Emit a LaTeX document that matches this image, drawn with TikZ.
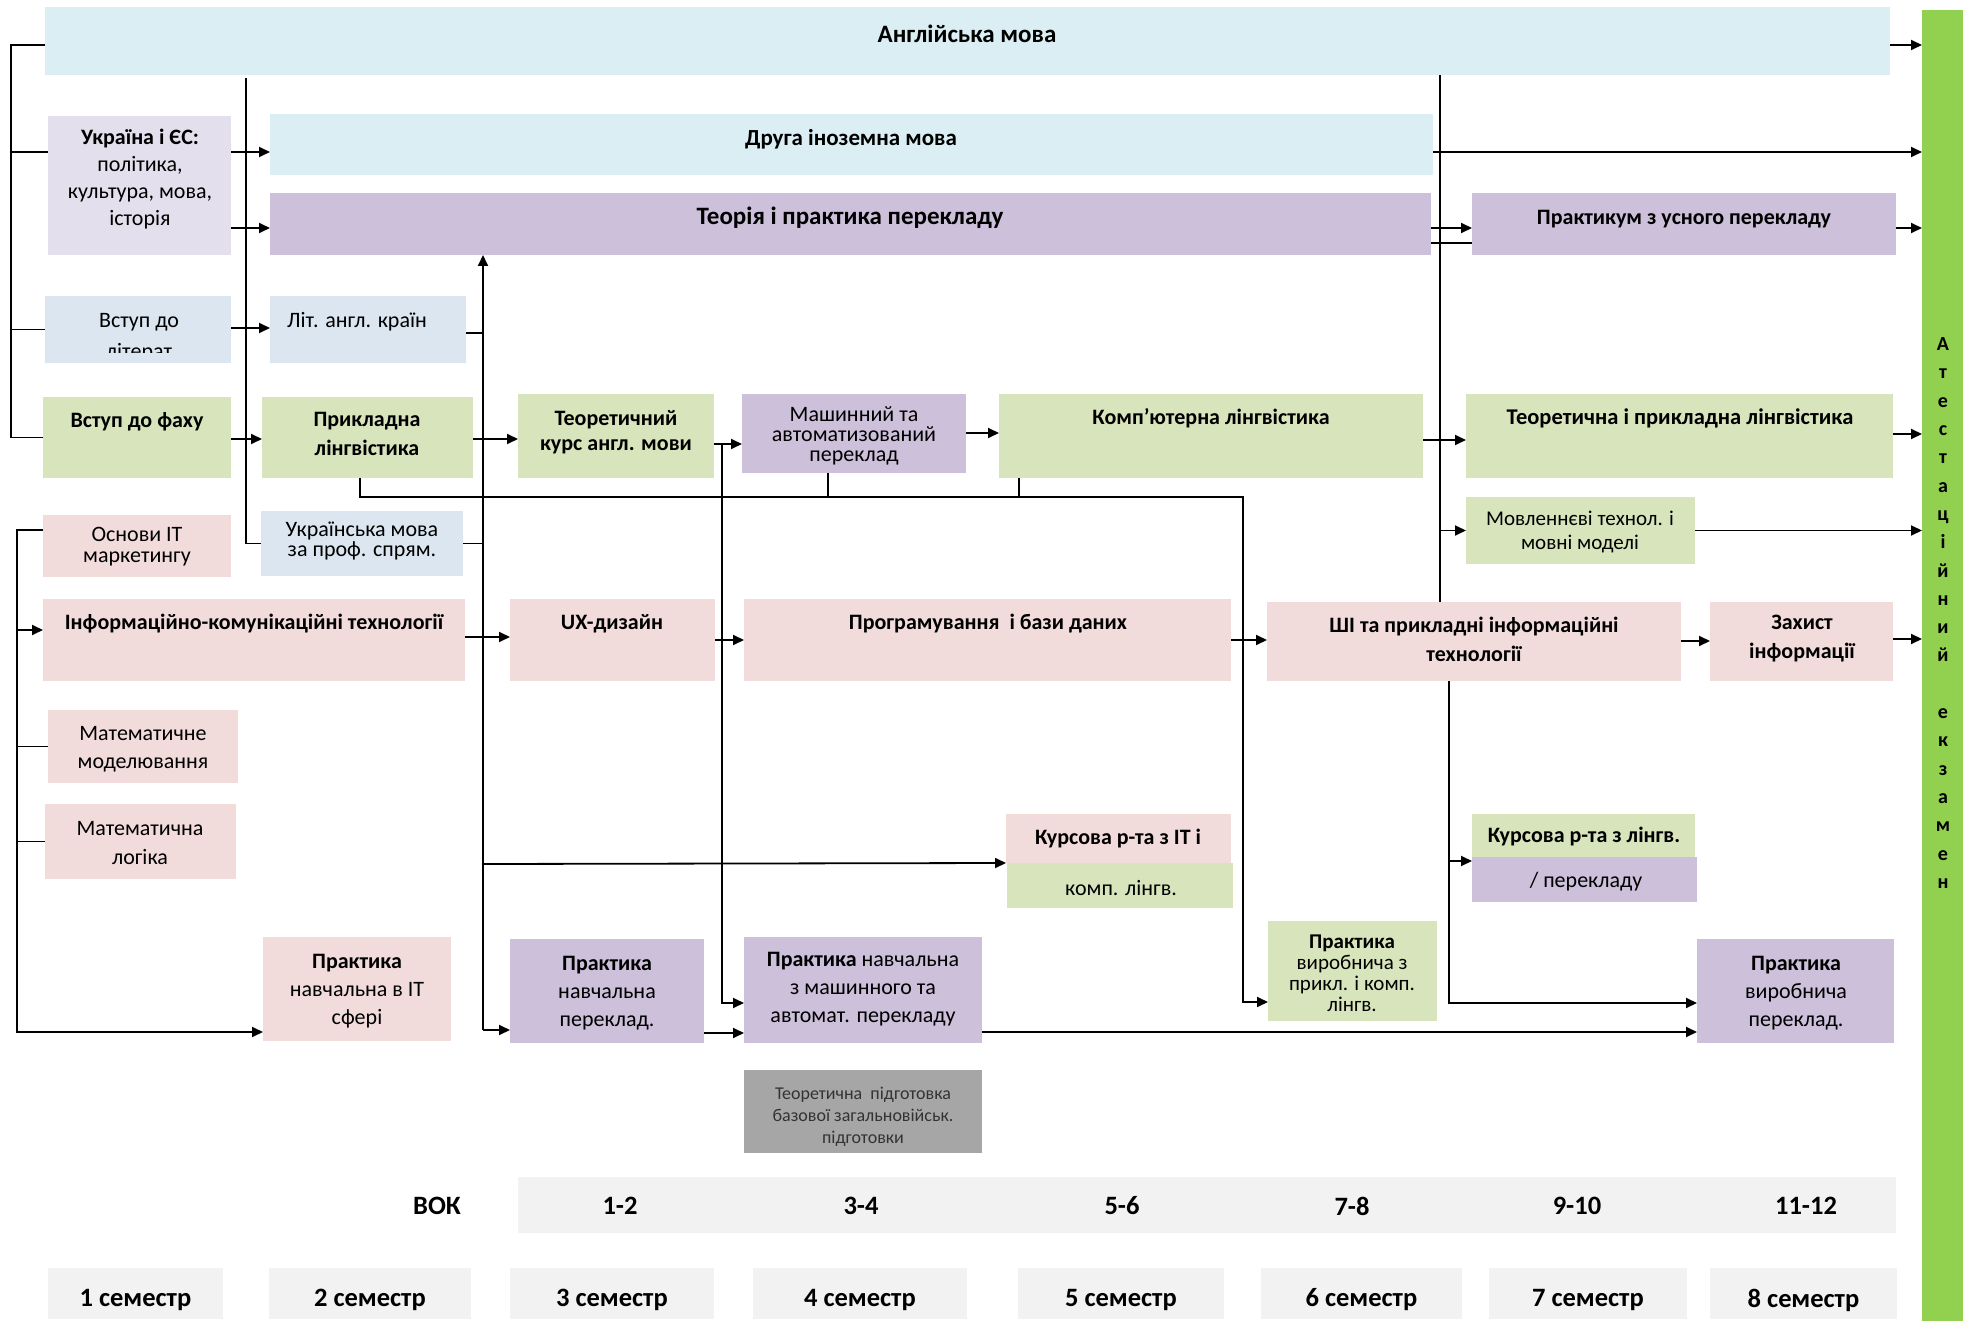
\documentclass[tikz,border=0pt]{standalone}
\usepackage{fontspec}
\setmainfont{Carlito}
\usetikzlibrary{arrows.meta}
\definecolor{cBlue}{HTML}{DAEEF3}
\definecolor{cLav}{HTML}{E4DFEC}
\definecolor{cPurp}{HTML}{CCC0DA}
\definecolor{cBG}{HTML}{DCE6F1}
\definecolor{cGreen}{HTML}{D8E4BC}
\definecolor{cPink}{HTML}{F2DCDB}
\definecolor{cGray}{HTML}{A6A6A6}
\definecolor{cLG}{HTML}{F2F2F2}
\definecolor{cAtt}{HTML}{92D050}
\definecolor{cDark}{HTML}{333333}
\tikzset{
  boxbase/.style={rectangle,inner sep=0pt,outer sep=0pt,draw=none},
  tx/.style={font=\fontsize{22}{28}\selectfont,align=center,inner sep=0pt},
  tb/.style={font=\fontsize{22}{28}\selectfont\bfseries,align=center,inner sep=0pt},
  tbig/.style={font=\fontsize{25}{30}\selectfont\bfseries,align=center,inner sep=0pt},
  tbot/.style={font=\fontsize{26.5}{30}\selectfont\bfseries,align=center,inner sep=0pt},
  ln/.style={line width=1.8pt},
  arr/.style={line width=1.8pt,-{Triangle[length=11pt,width=10pt]}},
}
\newcommand\bx[6]{\node[boxbase,fill=#6,minimum width={(#4-#2)*1pt},minimum height={(#5-#3)*1pt}] (#1) at ({(#2+#4)/2},{(#3+#5)/2}) {};}
\begin{document}
\begin{tikzpicture}[x=1pt,y=-1pt]
\useasboundingbox (0,0) rectangle (1966,1321);
% ---------- boxes ----------
\bx{eng}{45}{7}{1890}{75}{cBlue}
\bx{ukr}{48}{116}{231}{255}{cLav}
\bx{druha}{270}{114}{1433}{175}{cBlue}
\bx{teoria}{270}{193}{1431}{255}{cPurp}
\bx{prakt}{1472}{193}{1896}{255}{cPurp}
\bx{vstlit}{45}{296}{231}{363}{cBG}
\bx{lit}{270}{296}{466}{363}{cBG}
\bx{vstfah}{43}{397}{231}{478}{cGreen}
\bx{prykl}{262}{397}{473}{478}{cGreen}
\bx{teorkurs}{518}{394}{714}{478}{cGreen}
\bx{mash}{742}{394}{966}{473}{cPurp}
\bx{komp}{999}{394}{1423}{478}{cGreen}
\bx{tpl}{1466}{394}{1893}{478}{cGreen}
\bx{osn}{43}{515}{231}{577}{cPink}
\bx{ukrmova}{261}{511}{463}{576}{cBG}
\bx{movl}{1466}{497}{1695}{564}{cGreen}
\bx{inf}{43}{599}{465}{681}{cPink}
\bx{ux}{510}{599}{715}{681}{cPink}
\bx{prog}{744}{599}{1231}{681}{cPink}
\bx{shi}{1267}{602}{1681}{681}{cPink}
\bx{zah}{1710}{602}{1893}{681}{cPink}
\bx{matmod}{48}{710}{238}{783}{cPink}
\bx{matlog}{45}{804}{236}{879}{cPink}
\bx{kursITa}{1006}{814}{1231}{863}{cPink}
\bx{kursITb}{1007}{863}{1233}{908}{cGreen}
\bx{kursLa}{1472}{814}{1695}{857}{cGreen}
\bx{kursLb}{1472}{857}{1697}{902}{cPurp}
\bx{pnIT}{263}{937}{451}{1041}{cPink}
\bx{pnp}{510}{939}{704}{1043}{cPurp}
\bx{pnm}{744}{937}{982}{1043}{cPurp}
\bx{pvk}{1268}{921}{1437}{1021}{cGreen}
\bx{pvp}{1697}{939}{1894}{1043}{cPurp}
\bx{grayb}{744}{1070}{982}{1153}{cGray}
\bx{vok}{518}{1177}{1896}{1233}{cLG}
\bx{semA}{48}{1268}{223}{1319}{cLG}
\bx{semB}{269}{1268}{471}{1319}{cLG}
\bx{semC}{510}{1268}{714}{1319}{cLG}
\bx{semD}{753}{1268}{967}{1319}{cLG}
\bx{semE}{1018}{1268}{1224}{1319}{cLG}
\bx{semF}{1261}{1268}{1462}{1319}{cLG}
\bx{semG}{1489}{1268}{1687}{1319}{cLG}
\bx{semH}{1710}{1268}{1897}{1319}{cLG}
\bx{att}{1922}{10}{1963}{1321}{cAtt}
% ---------- texts ----------
\node[tbig] (engT) at (967,34) {Англійська мова};
\node[tb,font=\fontsize{23}{28}\selectfont\bfseries] (druhaT) at (851,139) {Друга іноземна мова};
\node[tbig] (teoriaT) at (850,218) {Теорія і практика перекладу};
\node[tb] (praktT) at (1684,219) {Практикум з усного перекладу};
\node[tx,font=\fontsize{22}{27}\selectfont] (ukrT) at (140,179) {\textbf{Україна і ЄС:}\\політика,\\культура, мова,\\історія};
\begin{scope}
\clip (vstlit.north west) rectangle (vstlit.east |- 0,353);
\node[tx,font=\fontsize{22}{31}\selectfont] (vstlitT) at (139,338) {Вступ до\\літерат};
\end{scope}
\node[tx] (litT) at (357,322) {Літ. англ. країн};
\node[tb] (vstfahT) at (137,422) {Вступ до фаху};
\node[tb,font=\fontsize{22}{29}\selectfont\bfseries] (pryklT) at (367,434) {Прикладна\\лінгвістика};
\node[tb,font=\fontsize{22}{25}\selectfont\bfseries] (teorkursT) at (616,432) {Теоретичний\\курс англ. мови};
\node[tx,font=\fontsize{22}{20}\selectfont] (mashT) at (854,436) {Машинний та\\автоматизований\\переклад};
\node[tb] (kompT) at (1211,418) {Комп’ютерна лінгвістика};
\node[tb,font=\fontsize{22.5}{28}\selectfont\bfseries] (tplT) at (1680,418) {Теоретична і прикладна лінгвістика};
\node[tx,font=\fontsize{22}{21}\selectfont] (osnT) at (137,547) {Основи IT\\маркетингу};
\node[tx,font=\fontsize{22}{20}\selectfont] (ukrmovaT) at (362,541) {Українська мова\\за проф. спрям.};
\node[tx,font=\fontsize{21}{24}\selectfont] (movlT) at (1580,532) {Мовленнєві технол. і\\мовні моделі};
\node[tb] (infT) at (254,624) {Інформаційно-комунікаційні технології};
\node[tb] (uxT) at (612,624) {UX-дизайн};
\node[tb] (progT) at (988,624) {Програмування\ \ і бази даних};
\node[tb,font=\fontsize{22}{29}\selectfont\bfseries] (shiT) at (1474,639) {ШІ та прикладні інформаційні\\технології};
\node[tb,font=\fontsize{22}{29}\selectfont\bfseries] (zahT) at (1802,639) {Захист\\інформації};
\node[tx] (matmodT) at (143,749) {Математичне\\моделювання};
\node[tx,font=\fontsize{22}{29}\selectfont] (matlogT) at (140,843) {Математична\\логіка};
\node[tb] (kursITaT) at (1118,839) {Курсова р-та з IT і};
\node[tx] (kursITbT) at (1121,888) {комп. лінгв.};
\node[tb] (kursLaT) at (1584,837) {Курсова р-та з лінгв.};
\node[tx] (kursLbT) at (1586,882) {/ перекладу};
\node[tx] (pnITT) at (357,991) {\textbf{Практика}\\навчальна в IT\\сфері};
\node[tx] (pnpT) at (607,993) {\textbf{Практика}\\навчальна\\переклад.};
\node[tx] (pnmT) at (863,989) {\textbf{Практика} навчальна\\з машинного та\\автомат. перекладу};
\node[tx,font=\fontsize{21}{21}\selectfont] (pvkT) at (1352,973) {\textbf{Практика}\\виробнича з\\прикл. і комп.\\лінгв.};
\node[tx] (pvpT) at (1796,993) {\textbf{Практика}\\виробнича\\переклад.};
\node[tx,font=\fontsize{18}{22}\selectfont,text=cDark] (grayT) at (863,1117) {Теоретична\ \ підготовка\\базової загальновійськ.\\підготовки};
\node[tbot] (vokT) at (437,1206) {ВОК};
\node[tbot] (nA) at (620,1206) {1-2};
\node[tbot] (nB) at (861,1206) {3-4};
\node[tbot] (nC) at (1122,1206) {5-6};
\node[tbot] (nD) at (1352,1206) {7-8};
\node[tbot] (nE) at (1577,1206) {9-10};
\node[tbot] (nF) at (1806,1206) {11-12};
\node[tbot] (sAT) at (semA |- 0,1300) {1 семестр};
\node[tbot] (sBT) at (semB |- 0,1300) {2 семестр};
\node[tbot] (sCT) at (semC |- 0,1300) {3 семестр};
\node[tbot] (sDT) at (semD |- 0,1300) {4 семестр};
\node[tbot] (sET) at (semE |- 0,1300) {5 семестр};
\node[tbot] (sFT) at (semF |- 0,1300) {6 семестр};
\node[tbot] (sGT) at (semG |- 0,1300) {7 семестр};
\node[tbot] (sHT) at (semH |- 0,1300) {8 семестр};
\node[font=\fontsize{20}{28.3}\selectfont\bfseries,align=center,inner sep=0pt] (attT) at (1943,613) {А\\т\\е\\с\\т\\а\\ц\\і\\й\\н\\и\\й\\[28.3pt]е\\к\\з\\а\\м\\е\\н};
% ---------- coordinates ----------
\coordinate (b1) at (11,0);
\coordinate (b2) at (17,0);
\coordinate (v2) at (246,0);
\coordinate (v4) at (483,0);
\coordinate (v5) at (722,0);
\coordinate (p6) at (360,0);
\coordinate (m6) at (828,0);
\coordinate (k6) at (1019,0);
\coordinate (v6) at (1243,0);
\coordinate (v3) at (1440,0);
\coordinate (v7) at (1449,0);
\coordinate (h6) at (0,497);
% ---------- connectors ----------
\draw[ln] (eng.west|-0,45) -| (b1|-vstfah.west) -- (vstfah.west);
\draw[ln] (b1|-0,152) -- (ukr.west|-0,152);
\draw[ln] (b1|-vstlit.west) -- (vstlit.west);
\draw[ln] (v2|-0,78) |- (ukrmova.west);
\draw[arr] (ukr.east|-0,152) -- (druha.west|-0,152);
\draw[arr] (ukr.east|-0,228) -- (teoria.west|-0,228);
\draw[arr] (vstlit.east|-0,328) -- (lit.west|-0,328);
\draw[arr] (vstfah.east|-0,439) -- (prykl.west|-0,439);
\draw[arr] (prykl.east|-0,439) -- (teorkurs.west|-0,439);
\draw[arr] (teorkurs.east|-0,444) -- (mash.west|-0,444);
\draw[arr] (mash.east|-0,433) -- (komp.west|-0,433);
\draw[arr] (komp.east|-0,440) -- (tpl.west|-0,440);
\draw[arr] (tpl.east|-0,434) -- (att.west|-0,434);
\draw[arr] (eng.east|-0,45) -- (att.west|-0,45);
\draw[arr] (druha.east|-0,152) -- (att.west|-0,152);
\draw[arr] (teoria.east|-0,228) -- (prakt.west|-0,228);
\draw[ln] (teoria.east|-0,243) -- (prakt.west|-0,243);
\draw[arr] (prakt.east|-0,228) -- (att.west|-0,228);
\draw[ln] (v3|-eng.south) -- (v3|-shi.north);
\draw[arr] (v3|-movl.west) -- (movl.west);
\draw[arr] (movl.east) -- (movl.east-|att.west);
\draw[arr] (shi.east|-0,641) -- (zah.west|-0,641);
\draw[arr] (zah.east|-0,639) -- (att.west|-0,639);
\draw[arr] (inf.east|-0,637) -- (ux.west|-0,637);
\draw[arr] (ux.east|-0,640) -- (prog.west|-0,640);
\draw[arr] (prog.east|-0,640) -- (shi.west|-0,640);
\draw[arr] (v4|-0,1030) -- (v4|-teoria.south);
\draw[arr] (v4|-0,1030) -- (pnp.west|-0,1030);
\draw[ln] (lit.east|-0,333) -- (v4|-0,333);
\draw[ln] (ukrmova.east) -- (ukrmova.east-|v4);
\draw[arr] (v4|-0,864) -- (kursITa.south west);
\draw[arr] (osn.west|-0,530) -| (b2|-0,1032) -- (pnIT.west|-0,1032);
\draw[arr] (b2|-0,630) -- (inf.west|-0,630);
\draw[ln] (b2|-matmod.west) -- (matmod.west);
\draw[ln] (b2|-matlog.west) -- (matlog.west);
\draw[arr] (v5|-0,444) |- (pnm.west|-0,1003);
\draw[arr] (pnp.east|-0,1033) -- (pnm.west|-0,1033);
\draw[arr] (pnm.east|-0,1032) -- (pvp.west|-0,1032);
\draw[arr] (prykl.south-|p6) -- (p6|-h6) -- (v6|-h6) -- (v6|-0,1002) -- (pvk.west|-0,1002);
\draw[ln] (mash.south-|m6) -- (m6|-h6);
\draw[ln] (komp.south-|k6) -- (k6|-h6);
\draw[arr] (shi.south-|v7) -- (v7|-0,1003) -- (pvp.west|-0,1003);
\draw[arr] (v7|-0,861) -- (kursLb.west|-0,861);
\end{tikzpicture}
\end{document}
